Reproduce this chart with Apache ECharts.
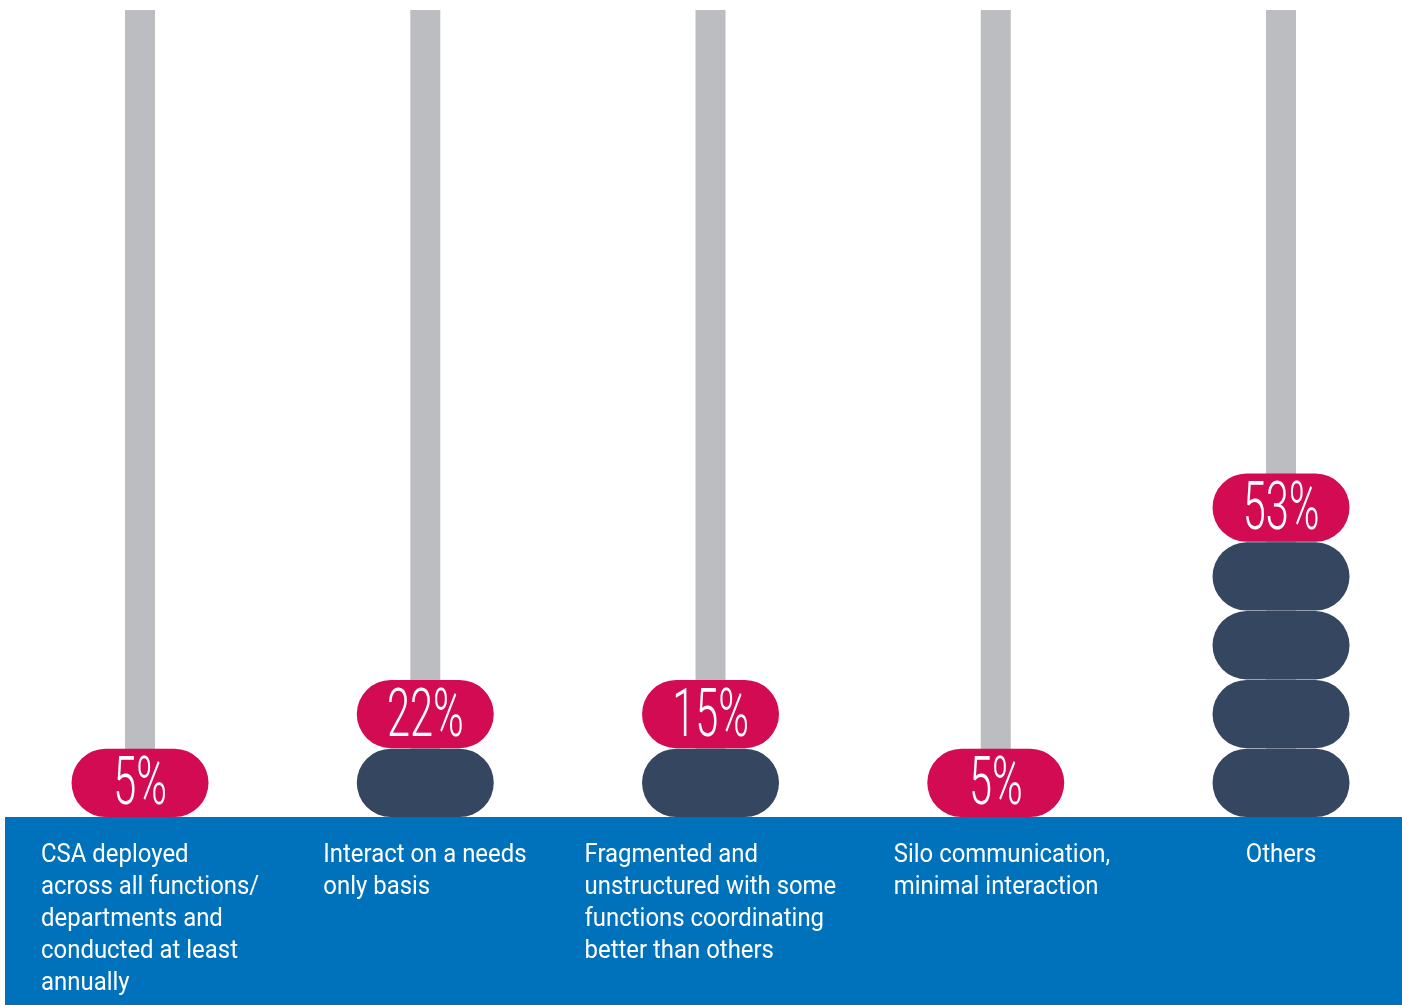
<!DOCTYPE html>
<html>
<head>
<meta charset="utf-8">
<script src="https://cdn.jsdelivr.net/npm/echarts@6/dist/echarts.min.js"></script>
<style>
html,body{margin:0;padding:0;background:#fff;}
#chart{width:1402px;height:1005px;}
</style>
</head>
<body>
<div id="chart"></div>
<script>
// ---- data ----
const categories = [
  'CSA deployed\nacross all functions/\ndepartments and\nconducted at least\nannually',
  'Interact on a needs\nonly basis',
  'Fragmented and\nunstructured with some\nfunctions coordinating\nbetter than others',
  'Silo communication,\nminimal interaction',
  'Others'
];
const values = [5, 22, 15, 5, 53];          // percentages shown on the top bead
const beadCounts = [1, 2, 2, 1, 5];         // number of beads on each rod

// ---- style ----
const Y_MAX = 11.73;
const LABEL_DX = [-99, -102, -126, -102, 0];
const LABEL_ALIGN = ['left', 'left', 'left', 'left', 'center'];
const BEAD_W = 137;
const PINK = '#d20b53', DARK = '#344660', ROD = '#bcbdc0', BLUE = '#0071bb';

const chart = echarts.init(document.getElementById('chart'));

const option = {
  animation: false,
  backgroundColor: '#ffffff',
  graphic: [{
    type: 'rect', z: -10, silent: true,
    shape: { x: 5, y: 817, width: 1397, height: 188 },
    style: { fill: BLUE }
  }],
  grid: { left: -2.6, right: -21.65, top: 10, bottom: 188, outerBoundsMode: 'none', containLabel: false },
  xAxis: {
    type: 'category', data: categories,
    axisLine: { show: false }, axisTick: { show: false }, axisLabel: { show: false },
    splitLine: { show: false }
  },
  yAxis: {
    type: 'value', min: 0, max: Y_MAX, show: false, splitLine: { show: false }
  },
  series: [
    {
      type: 'bar', barWidth: 30, z: 1,
      itemStyle: { color: ROD },
      data: categories.map(() => Y_MAX)
    },
    {
      type: 'custom', z: 5,
      data: categories.map((c, i) => [i, beadCounts[i], values[i]]),
      renderItem: function (params, api) {
        const i = api.value(0), n = api.value(1), v = api.value(2);
        const children = [];
        for (let j = 0; j < n; j++) {
          const p0 = api.coord([i, j]);
          const p1 = api.coord([i, j + 1]);
          const h = p0[1] - p1[1];
          const top = j === n - 1;
          children.push({
            type: 'rect',
            shape: { x: p0[0] - BEAD_W / 2, y: p1[1] + 0.5, width: BEAD_W, height: h - 0.5, r: (h - 0.5) / 2 },
            style: { fill: top ? PINK : DARK }
          });
          if (top) {
            children.push({
              type: 'text',
              x: p0[0], y: p1[1] + h / 2 + 5,
              scaleX: 0.62,
              style: {
                text: v + '%', x: 0, y: 0,
                fill: '#ffffff',
                font: '300 67px Roboto, "Liberation Sans Narrow", sans-serif',
                align: 'center', verticalAlign: 'middle'
              }
            });
          }
        }
        return { type: 'group', children: children };
      }
    },
    {
      type: 'custom', z: 6,
      data: categories.map((c, i) => [i, 0]),
      renderItem: function (params, api) {
        const i = api.value(0);
        const p = api.coord([i, 0]);
        return {
          type: 'text',
          x: p[0] + LABEL_DX[i], y: 839,
          scaleX: 0.92,
          style: {
            text: categories[i], x: 0, y: 0,
            fill: '#ffffff',
            font: '400 26px Roboto, sans-serif',
            lineHeight: 32,
            align: LABEL_ALIGN[i], verticalAlign: 'top'
          }
        };
      }
    }
  ]
};
chart.setOption(option);
</script>
</body>
</html>
